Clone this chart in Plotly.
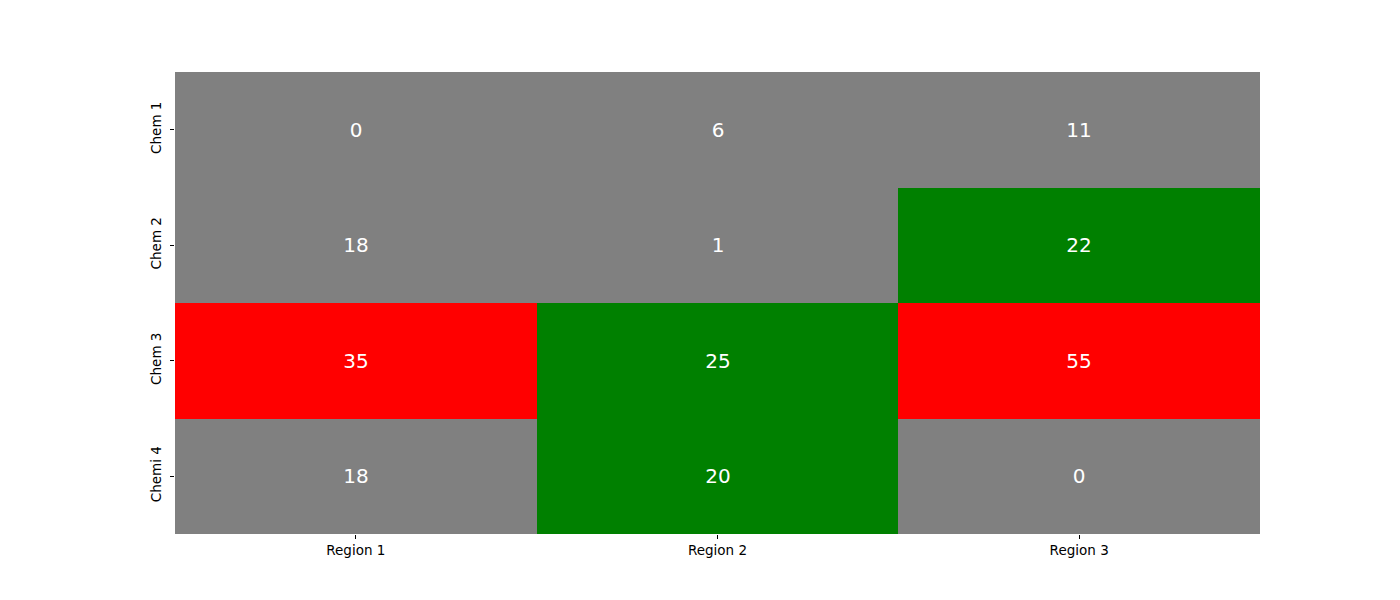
import plotly.graph_objects as go

regions = ["Region 1", "Region 2", "Region 3"]
chems = ["Chem 1", "Chem 2", "Chem 3", "Chemi 4"]
values = [
    [0, 6, 11],
    [18, 1, 22],
    [35, 25, 55],
    [18, 20, 0],
]

GRAY = "#808080"
GREEN = "#008000"
RED = "#ff0000"
zmax = 55
lo = 19 / zmax
hi = 30 / zmax
colorscale = [
    [0, GRAY], [lo, GRAY], [lo, GREEN], [hi, GREEN], [hi, RED], [1, RED]
]

fig = go.Figure(go.Heatmap(
    z=values, x=regions, y=chems,
    colorscale=colorscale, zmin=0, zmax=zmax, showscale=False,
    texttemplate="%{z}", textfont=dict(color="white", size=20, family="DejaVu Sans"),
    hoverinfo="skip", xgap=0, ygap=0,
))

fig.update_layout(
    width=1400, height=600,
    margin=dict(l=175, r=140, t=72, b=66),
    paper_bgcolor="white", plot_bgcolor="white",
    font=dict(family="DejaVu Sans", size=13.5, color="black"),
)
fig.update_xaxes(ticks="outside", ticklen=4, tickcolor="black", showgrid=False,
                 zeroline=False, showline=False, tickfont=dict(size=13.5),
                 ticklabelstandoff=0)
fig.update_yaxes(ticks="outside", ticklen=4, tickcolor="black", showgrid=False,
                 zeroline=False, showline=False, autorange="reversed",
                 tickangle=-90, tickfont=dict(size=13.5), ticklabelstandoff=4)

fig.write_html("out.html")
